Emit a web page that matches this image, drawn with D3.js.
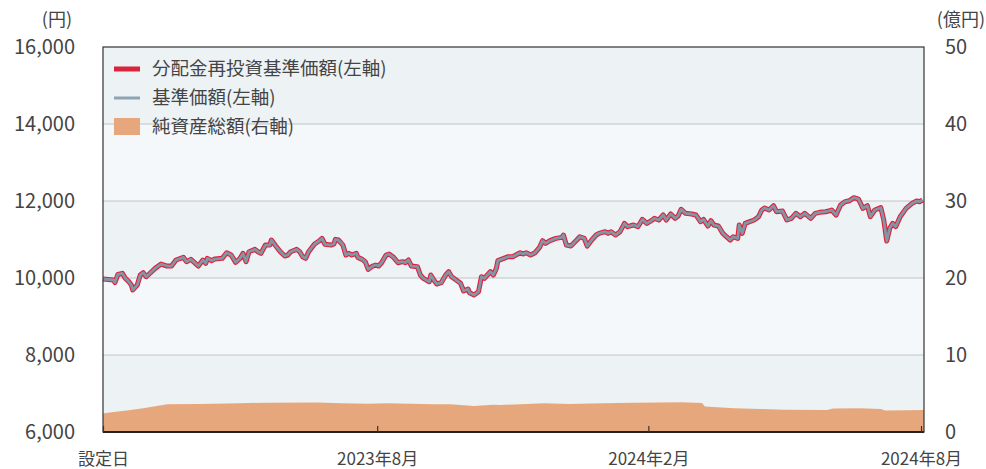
<!DOCTYPE html>
<html>
<head>
<meta charset="utf-8">
<script src="https://cdn.jsdelivr.net/npm/d3@7"></script>
<style>
    html, body { margin: 0; padding: 0; background: #fff; }
    svg text { font-family: "Noto Sans CJK JP", "Noto Sans", sans-serif; fill: #444; }
</style>
</head>
<body>
<div id="chart"></div>
<script>
    // setup date and days elapsed for each reading
    var launchDate = "2023-02-28";
    var endDate = "2024-09-01";
    var tickDates = ["2023-02-28", "2023-08-31", "2024-02-29", "2024-08-30"];

    // 基準価額 (yen), same as the reinvested series (no distributions)
    var navDays = [0, 7, 8, 10, 13, 15, 17, 19, 20, 23, 25, 27, 29, 31, 35, 39, 43, 46, 49, 54,
        56, 59, 64, 67, 69, 70, 73, 75, 80, 83, 86, 89, 92, 94, 96, 98, 102, 104, 106, 109,
        112, 113, 116, 119, 122, 124, 126, 130, 132, 134, 136, 138, 142, 145, 147, 149, 153, 155, 156, 158,
        161, 163, 165, 167, 170, 171, 174, 176, 178, 181, 183, 185, 187, 190, 192, 195, 198, 201, 203, 205,
        207, 211, 213, 215, 219, 220, 222, 224, 227, 230, 232, 234, 237, 240, 242, 245, 246, 249, 252, 254,
        256, 258, 260, 262, 264, 265, 269, 272, 275, 278, 280, 282, 284, 287, 290, 293, 295, 297, 300, 304,
        308, 309, 311, 314, 318, 320, 323, 325, 328, 331, 333, 337, 339, 341, 344, 347, 350, 352, 356, 359,
        362, 365, 368, 370, 373, 376, 378, 381, 384, 386, 388, 391, 395, 398, 401, 403, 406, 408, 410, 413,
        416, 418, 421, 423, 426, 427, 429, 431, 434, 437, 440, 442, 444, 447, 450, 452, 456, 459, 462, 465,
        468, 471, 475, 478, 481, 485, 487, 489, 492, 495, 498, 501, 504, 507, 510, 513, 515, 518, 522, 524,
        526, 528, 530, 532, 535, 539, 543, 546, 548, 550];
    var navValues = [9974, 9948, 9880, 10095, 10120, 9990, 9920, 9817, 9690, 9817, 10078, 10138, 10034, 10104, 10250, 10363, 10311, 10311, 10467, 10536,
        10424, 10484, 10311, 10467, 10380, 10510, 10450, 10493, 10510, 10657, 10597, 10407, 10510, 10640, 10424, 10683, 10744, 10683, 10640, 10856,
        10856, 10986, 10830, 10683, 10571, 10597, 10683, 10744, 10683, 10553, 10510, 10683, 10883, 10960, 11030, 10874, 10856, 10883, 11004, 10986,
        10856, 10597, 10640, 10597, 10640, 10536, 10484, 10424, 10225, 10311, 10337, 10311, 10397, 10597, 10623, 10536, 10397, 10424, 10397, 10467,
        10311, 10294, 10078, 9990, 9903, 10078, 9948, 9844, 9878, 10078, 10164, 10034, 9948, 9862, 9662, 9714, 9618, 9558, 9644, 10034,
        9990, 10078, 10164, 10078, 10250, 10450, 10510, 10553, 10553, 10615, 10657, 10623, 10657, 10597, 10657, 10796, 10969, 10900, 10969, 11030,
        11056, 11116, 10856, 10830, 10986, 11072, 11030, 10830, 10986, 11116, 11160, 11203, 11160, 11203, 11116, 11203, 11419, 11333, 11376, 11333,
        11523, 11419, 11488, 11549, 11506, 11636, 11506, 11662, 11549, 11610, 11783, 11679, 11662, 11636, 11462, 11523, 11350, 11488, 11376, 11350,
        11160, 11090, 10986, 11072, 11030, 11376, 11160, 11419, 11462, 11506, 11593, 11760, 11820, 11766, 11878, 11722, 11740, 11506, 11549, 11679,
        11593, 11679, 11549, 11679, 11705, 11722, 11740, 11766, 11636, 11896, 11982, 12008, 12086, 12051, 11809, 11878, 11593, 11766, 11826, 11506,
        10960, 11290, 11419, 11333, 11593, 11809, 11938, 11999, 11982, 12025];

    // 純資産総額 (億円)
    var assetDays = [0, 1, 7, 16, 27, 35, 43, 65, 92, 110, 144, 160, 178, 191, 222, 233, 249, 262, 267, 296,
        313, 335, 357, 388, 402, 404, 424, 441, 457, 486, 490, 508, 522, 525, 551];
    var assetValues = [2.35, 2.42, 2.6, 2.8, 3.1, 3.35, 3.6, 3.65, 3.75, 3.81, 3.82, 3.75, 3.66, 3.74, 3.6, 3.6, 3.38, 3.55, 3.52, 3.73,
        3.65, 3.72, 3.81, 3.86, 3.76, 3.3, 3.1, 3.0, 2.88, 2.86, 3.06, 3.08, 3.0, 2.8, 2.86];

    var leftTicks = [6000, 8000, 10000, 12000, 14000, 16000];
    var rightTicks = [0, 10, 20, 30, 40, 50];
    var legendLabels = ["分配金再投資基準価額(左軸)", "基準価額(左軸)", "純資産総額(右軸)"];

    (function () {
        var W = 986, H = 469,
            mLeft = 103, mRight = 924, mTop = 47, mBottom = 432;

        var parse = d3.timeParse("%Y-%m-%d");
        var start = parse(launchDate);
        function dayOf(d) { return d3.timeDay.offset(start, d); }

        var x = d3.scaleTime().domain([start, parse(endDate)]).range([mLeft, mRight]);
        var yL = d3.scaleLinear().domain([6000, 16000]).range([mBottom, mTop]);
        var yR = d3.scaleLinear().domain([0, 50]).range([mBottom, mTop]);

        var nav = navDays.map(function (d, i) { return { date: dayOf(d), v: navValues[i] }; });
        var assets = assetDays.map(function (d, i) { return { date: dayOf(d), v: assetValues[i] }; });

        var svg = d3.select("#chart").append("svg")
            .attr("width", W)
            .attr("height", H);

        // alternating background bands
        svg.append("g").selectAll("rect")
            .data(d3.pairs(leftTicks))
            .enter().append("rect")
            .attr("x", mLeft)
            .attr("width", mRight - mLeft)
            .attr("y", function (d) { return yL(d[1]); })
            .attr("height", function (d) { return yL(d[0]) - yL(d[1]); })
            .attr("fill", function (d, i) { return i % 2 === 0 ? "#edf2f5" : "#f5f8fa"; });

        // grid
        svg.append("g").selectAll("line")
            .data(leftTicks.slice(1, -1))
            .enter().append("line")
            .attr("x1", mLeft).attr("x2", mRight)
            .attr("y1", function (d) { return yL(d); })
            .attr("y2", function (d) { return yL(d); })
            .attr("stroke", "#c2c4c6")
            .attr("stroke-width", 1);

        // net assets area
        var area = d3.area()
            .x(function (d) { return x(d.date); })
            .y0(mBottom)
            .y1(function (d) { return yR(d.v); });
        svg.append("path")
            .datum(assets)
            .attr("fill", "#e7a77c")
            .attr("d", area);

        // NAV lines: reinvested (red) under, NAV (grey) on top
        var line = d3.line()
            .x(function (d) { return x(d.date); })
            .y(function (d) { return yL(d.v); });
        svg.append("path")
            .datum(nav)
            .attr("fill", "none")
            .attr("stroke", "#e0203a")
            .attr("stroke-width", 5)
            .attr("stroke-linejoin", "round")
            .attr("d", line);
        svg.append("path")
            .datum(nav)
            .attr("fill", "none")
            .attr("stroke", "#8296a6")
            .attr("stroke-width", 2.8)
            .attr("stroke-linejoin", "round")
            .attr("d", line);

        // frame
        svg.append("rect")
            .attr("x", mLeft).attr("y", mTop)
            .attr("width", mRight - mLeft).attr("height", mBottom - mTop)
            .attr("fill", "none")
            .attr("stroke", "#333")
            .attr("stroke-width", 1.2);
        svg.append("line")
            .attr("x1", mLeft).attr("x2", mRight)
            .attr("y1", mBottom).attr("y2", mBottom)
            .attr("stroke", "#222")
            .attr("stroke-width", 2);

        // axes
        var axL = svg.append("g")
            .attr("transform", "translate(" + mLeft + ",0)")
            .call(d3.axisLeft(yL).tickValues(leftTicks).tickSize(0).tickPadding(28)
                .tickFormat(d3.format(",")));
        var axR = svg.append("g")
            .attr("transform", "translate(" + mRight + ",0)")
            .call(d3.axisRight(yR).tickValues(rightTicks).tickSize(0).tickPadding(21));
        var fmt = d3.timeFormat("%Y年%-m月");
        var axB = svg.append("g")
            .attr("transform", "translate(0," + mBottom + ")")
            .call(d3.axisBottom(x).tickValues(tickDates.map(parse)).tickSizeInner(-6).tickSizeOuter(0).tickPadding(21)
                .tickFormat(function (d, i) { return i === 0 ? "設定日" : fmt(d); }));

        [axL, axR, axB].forEach(function (ax) {
            ax.select(".domain").remove();
            ax.selectAll("text").attr("fill", "#444").style("font-size", "20px");
        });
        axB.selectAll("text").style("font-size", "17px");
        axB.selectAll("line").attr("stroke", "#333").attr("stroke-width", 1.2);

        // unit labels
        svg.append("text")
            .attr("x", 72).attr("y", 20).attr("dy", "0.35em")
            .attr("text-anchor", "end")
            .style("font-size", "18px")
            .text("(円)");
        svg.append("text")
            .attr("x", 985).attr("y", 20).attr("dy", "0.35em")
            .attr("text-anchor", "end")
            .style("font-size", "18px")
            .text("(億円)");

        // legend
        var lg = svg.append("g").attr("transform", "translate(114,69)");
        lg.append("line").attr("x1", 0).attr("x2", 26).attr("y1", 0).attr("y2", 0)
            .attr("stroke", "#d9253a").attr("stroke-width", 5);
        lg.append("line").attr("x1", 0).attr("x2", 26).attr("y1", 29).attr("y2", 29)
            .attr("stroke", "#8ea3b3").attr("stroke-width", 3);
        lg.append("rect").attr("x", 0).attr("y", 49).attr("width", 26).attr("height", 17)
            .attr("fill", "#e7a77c");
        lg.selectAll("text")
            .data(legendLabels)
            .enter().append("text")
            .attr("x", 38)
            .attr("y", function (d, i) { return i * 29; })
            .attr("dy", "0.35em")
            .style("font-size", "18.5px")
            .text(function (d) { return d; });
    })();
</script>
</body>
</html>
